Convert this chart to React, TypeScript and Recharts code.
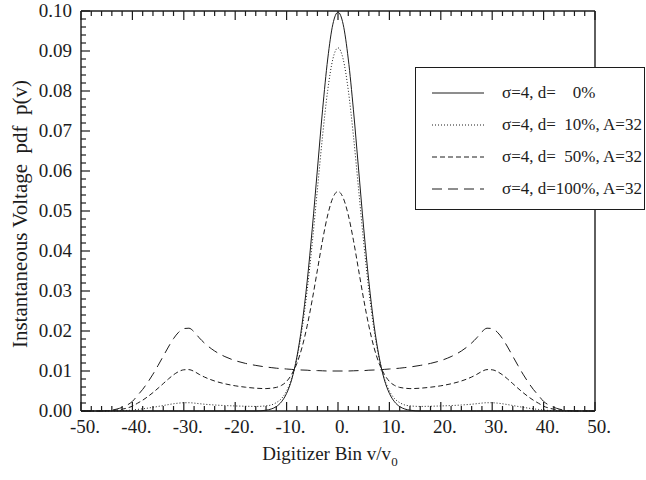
import { LineChart, Line, XAxis, YAxis } from "recharts";

// digitizer bins (v/v0)
const xBins = [
  -50, -46, -45, -44, -43, -42, -41, -40, -39, -38, -37, -36, -35, -34, -33, -32, -31, -30, -29, -28, -27, -26,
  -24, -22, -20, -18, -16, -14, -13, -12, -11, -10, -9, -8, -7, -6, -5, -4, -3, -2, -1,
  0,
  1, 2, 3, 4, 5, 6, 7, 8, 9, 10, 11, 12, 13, 14, 16, 18, 20, 22, 24,
  26, 27, 28, 29, 30, 31, 32, 33, 34, 35, 36, 37, 38, 39, 40, 41, 42, 43, 44, 45, 46, 50,
];

// sigma=4, d=0%
const pdf0 = [
  0, 0, 0, 0, 0, 0, 0, 0, 0, 0, 0, 0, 0, 0, 0, 0, 0, 0, 0, 0, 0, 0,
  0, 0, 0, 0, 0, 0.0002, 0.0005, 0.0011, 0.0023, 0.0044, 0.0079, 0.0135, 0.0216, 0.0324, 0.0457, 0.0605, 0.0753, 0.088, 0.0967,
  0.0997,
  0.0967, 0.088, 0.0753, 0.0605, 0.0457, 0.0324, 0.0216, 0.0135, 0.0079, 0.0044, 0.0023, 0.0011, 0.0005, 0.0002, 0, 0, 0, 0, 0,
  0, 0, 0, 0, 0, 0, 0, 0, 0, 0, 0, 0, 0, 0, 0, 0, 0, 0, 0, 0, 0, 0,
];

// sigma=4, d=10%, A=32
const pdf10 = [
  0, 0, 0.00001, 0.00002, 0.00005, 0.00009, 0.00015, 0.00024, 0.00039, 0.00054, 0.00072, 0.00092, 0.00114, 0.00137, 0.0016, 0.00181, 0.00197, 0.00206, 0.00207, 0.00198, 0.00183, 0.0017,
  0.0015, 0.00136, 0.00126, 0.00119, 0.00114, 0.0013, 0.0015, 0.0021, 0.0031, 0.005, 0.0082, 0.0132, 0.0204, 0.0302, 0.0421, 0.0555, 0.0688, 0.0802, 0.088,
  0.0908,
  0.088, 0.0802, 0.0688, 0.0555, 0.0421, 0.0302, 0.0204, 0.0132, 0.0082, 0.005, 0.0031, 0.0021, 0.0015, 0.0013, 0.00114, 0.00119, 0.00126, 0.00136, 0.0015,
  0.0017, 0.00183, 0.00198, 0.00207, 0.00206, 0.00197, 0.00181, 0.0016, 0.00137, 0.00114, 0.00092, 0.00072, 0.00054, 0.00039, 0.00024, 0.00015, 0.00009, 0.00005, 0.00002, 0.00001, 0, 0,
];

// sigma=4, d=50%, A=32
const pdf50 = [
  0, 0, 0.00005, 0.0001, 0.00025, 0.00045, 0.00075, 0.0012, 0.00195, 0.0027, 0.0036, 0.0046, 0.0057, 0.00685, 0.008, 0.00905, 0.00985, 0.0103, 0.01035, 0.0099, 0.00915, 0.0085,
  0.0075, 0.0068, 0.0063, 0.00595, 0.0057, 0.0056, 0.0057, 0.0059, 0.0064, 0.0074, 0.0092, 0.0119, 0.0159, 0.0213, 0.0279, 0.0353, 0.0427, 0.049, 0.0533,
  0.0549,
  0.0533, 0.049, 0.0427, 0.0353, 0.0279, 0.0213, 0.0159, 0.0119, 0.0092, 0.0074, 0.0064, 0.0059, 0.0057, 0.0056, 0.0057, 0.00595, 0.0063, 0.0068, 0.0075,
  0.0085, 0.00915, 0.0099, 0.01035, 0.0103, 0.00985, 0.00905, 0.008, 0.00685, 0.0057, 0.0046, 0.0036, 0.0027, 0.00195, 0.0012, 0.00075, 0.00045, 0.00025, 0.0001, 0.00005, 0, 0,
];

// sigma=4, d=100%, A=32
const pdf100 = [
  0, 0, 0.0001, 0.0002, 0.0005, 0.0009, 0.0015, 0.0024, 0.0039, 0.0054, 0.0072, 0.0092, 0.0114, 0.0137, 0.016, 0.0181, 0.0197, 0.0206, 0.0207, 0.0198, 0.0183, 0.017,
  0.015, 0.0136, 0.0126, 0.0119, 0.0114, 0.011, 0.01085, 0.0107, 0.0106, 0.0105, 0.0104, 0.0103, 0.01025, 0.0102, 0.0101, 0.0101, 0.01005, 0.01, 0.01,
  0.01,
  0.01, 0.01, 0.01005, 0.0101, 0.0101, 0.0102, 0.01025, 0.0103, 0.0104, 0.0105, 0.0106, 0.0107, 0.01085, 0.011, 0.0114, 0.0119, 0.0126, 0.0136, 0.015,
  0.017, 0.0183, 0.0198, 0.0207, 0.0206, 0.0197, 0.0181, 0.016, 0.0137, 0.0114, 0.0092, 0.0072, 0.0054, 0.0039, 0.0024, 0.0015, 0.0009, 0.0005, 0.0002, 0.0001, 0, 0,
];

const xTicks = [
  -50, -48, -46, -44, -42, -40, -38, -36, -34, -32, -30, -28, -26, -24, -22, -20, -18, -16, -14, -12, -10, -8, -6, -4, -2,
  0, 2, 4, 6, 8, 10, 12, 14, 16, 18, 20, 22, 24, 26, 28, 30, 32, 34, 36, 38, 40, 42, 44, 46, 48, 50,
];
const yTicks = [
  0, 0.002, 0.004, 0.006, 0.008, 0.01, 0.012, 0.014, 0.016, 0.018, 0.02, 0.022, 0.024, 0.026, 0.028, 0.03,
  0.032, 0.034, 0.036, 0.038, 0.04, 0.042, 0.044, 0.046, 0.048, 0.05, 0.052, 0.054, 0.056, 0.058, 0.06,
  0.062, 0.064, 0.066, 0.068, 0.07, 0.072, 0.074, 0.076, 0.078, 0.08, 0.082, 0.084, 0.086, 0.088, 0.09,
  0.092, 0.094, 0.096, 0.098, 0.1,
];

const seriesKeys = ["d0", "d10", "d50", "d100"];
const seriesLabels = [
  "σ=4, d=\u2007\u20070%",
  "σ=4, d=\u200710%, A=32",
  "σ=4, d=\u200750%, A=32",
  "σ=4, d=100%, A=32",
];
const dashes = ["", "1 2", "5 3", "10 6"];

const data = xBins.map((x, i) => ({
  x,
  d0: pdf0[i],
  d10: pdf10[i],
  d50: pdf50[i],
  d100: pdf100[i],
}));

const INK = "#1c1c1c";
const FONT = "Liberation Serif";
const isMajorX = (v: number) => v % 10 === 0;
const isMajorY = (v: number) => Math.round(v * 1000) % 10 === 0;

const BottomTick = ({ x, y, payload }: any) => {
  const v = payload.value;
  const major = isMajorX(v);
  return (
    <g>
      <line x1={x} x2={x} y1={y} y2={y - (major ? 9 : 5)} stroke={INK} strokeWidth={1.2} />
      {major && (
        <text x={x + 4} y={y + 22} textAnchor="middle" fontSize={19} fontFamily={FONT} fill={INK}>
          {`${v}.`}
        </text>
      )}
    </g>
  );
};

const TopTick = ({ x, y, payload }: any) => {
  const major = isMajorX(payload.value);
  return <line x1={x} x2={x} y1={y} y2={y + (major ? 9 : 5)} stroke={INK} strokeWidth={1.2} />;
};

const LeftTick = ({ x, y, payload }: any) => {
  const v = payload.value;
  const major = isMajorY(v);
  return (
    <g>
      <line x1={x} x2={x + (major ? 9 : 5)} y1={y} y2={y} stroke={INK} strokeWidth={1.2} />
      {major && (
        <text x={x - 9} y={y + 6} textAnchor="end" fontSize={19} fontFamily={FONT} fill={INK}>
          {v.toFixed(2)}
        </text>
      )}
    </g>
  );
};

const RightTick = ({ x, y, payload }: any) => {
  const major = isMajorY(payload.value);
  return <line x1={x} x2={x - (major ? 9 : 5)} y1={y} y2={y} stroke={INK} strokeWidth={1.2} />;
};

const App = () => {
  return (
    <div style={{ position: "absolute", left: 0, top: 0, width: 646, height: 480, background: "#fff", fontFamily: FONT, color: INK }}>
      <LineChart width={646} height={480} data={data} margin={{ top: 10, right: 50, bottom: 39, left: 11 }}>
        <XAxis
          dataKey="x"
          type="number"
          domain={[-50, 50]}
          ticks={xTicks}
          interval={0}
          tickSize={0}
          tickMargin={0}
          tickLine={false}
          height={30}
          tick={<BottomTick />}
          axisLine={{ stroke: INK, strokeWidth: 1.4 }}
        />
        <XAxis
          xAxisId="top"
          orientation="top"
          dataKey="x"
          type="number"
          domain={[-50, 50]}
          ticks={xTicks}
          interval={0}
          tickSize={0}
          tickMargin={0}
          tickLine={false}
          height={1}
          tick={<TopTick />}
          axisLine={{ stroke: INK, strokeWidth: 1.4 }}
        />
        <YAxis
          type="number"
          domain={[0, 0.1]}
          ticks={yTicks}
          interval={0}
          tickSize={0}
          tickMargin={0}
          tickLine={false}
          width={70}
          tick={<LeftTick />}
          axisLine={{ stroke: INK, strokeWidth: 1.4 }}
        />
        <YAxis
          yAxisId="right"
          orientation="right"
          type="number"
          domain={[0, 0.1]}
          ticks={yTicks}
          interval={0}
          tickSize={0}
          tickMargin={0}
          tickLine={false}
          width={1}
          tick={<RightTick />}
          axisLine={{ stroke: INK, strokeWidth: 1.4 }}
        />
        {seriesKeys.map((k, i) => (
          <Line
            key={k}
            dataKey={k}
            type="monotone"
            stroke={INK}
            strokeWidth={1}
            strokeDasharray={dashes[i] || undefined}
            dot={false}
            activeDot={false}
            isAnimationActive={false}
          />
        ))}
      </LineChart>

      {/* legend box */}
      <div
        style={{
          position: "absolute",
          left: 415,
          top: 67,
          width: 228,
          height: 141,
          border: `1.5px solid ${INK}`,
          background: "#fff",
        }}
      >
        {seriesLabels.map((label, i) => (
          <div key={label} style={{ position: "absolute", left: 16, top: 14 + i * 32, height: 22, display: "flex", alignItems: "center" }}>
            <svg width={52} height={4} style={{ display: "block" }}>
              <line x1={0} x2={52} y1={2} y2={2} stroke={INK} strokeWidth={1} strokeDasharray={dashes[i] || undefined} />
            </svg>
            <span style={{ marginLeft: 18, fontSize: 17, whiteSpace: "pre", lineHeight: "22px" }}>{label}</span>
          </div>
        ))}
      </div>

      {/* axis titles */}
      <div style={{ position: "absolute", left: 130, top: 443, width: 400, textAlign: "center", fontSize: 19, lineHeight: "22px" }}>
        Digitizer Bin v/v<sub style={{ fontSize: 13, verticalAlign: -6 }}>0</sub>
      </div>
      <div
        style={{
          position: "absolute",
          left: 20,
          top: 214,
          transform: "translate(-50%, -50%) rotate(-90deg)",
          fontSize: 21,
          whiteSpace: "pre",
          lineHeight: "22px",
        }}
      >
        {"Instantaneous Voltage  pdf  p(v)"}
      </div>
    </div>
  );
};

export default App;
